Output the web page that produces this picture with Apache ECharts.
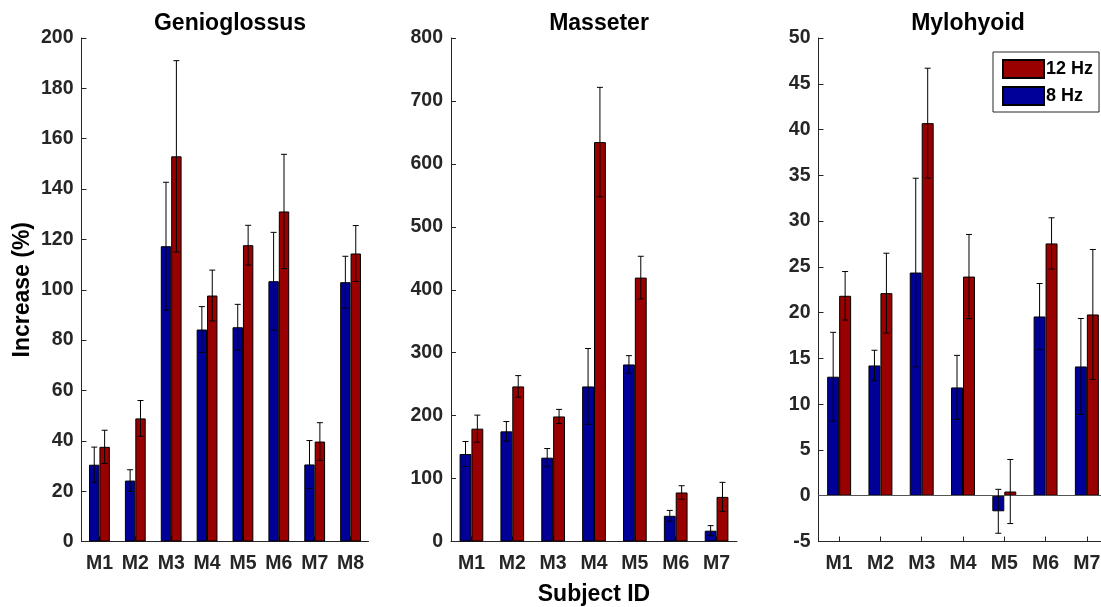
<!DOCTYPE html>
<html>
<head>
<meta charset="utf-8">
<script src="https://cdn.jsdelivr.net/npm/echarts@6/dist/echarts.min.js"></script>
<style>
  html, body { margin: 0; padding: 0; background: #fff; }
  #chart { width: 1101px; height: 607px; }
</style>
</head>
<body>
<div id="chart"></div>
<script>
// Muscle response (% increase) per subject at 8 Hz and 12 Hz stimulation, mean ± error
const genioSubjects = ['M1', 'M2', 'M3', 'M4', 'M5', 'M6', 'M7', 'M8'];
const genio8 = [30.5, 24.2, 117.3, 84.2, 85.1, 103.4, 30.6, 103.0];
const genio8Err = [7.0, 4.3, 25.4, 9.1, 9.1, 19.4, 9.5, 10.3];
const genio12 = [37.6, 48.9, 153.0, 97.7, 117.7, 131.1, 39.7, 114.4];
const genio12Err = [6.6, 7.1, 38.0, 10.1, 7.9, 22.7, 7.5, 11.1];

const masseterSubjects = ['M1', 'M2', 'M3', 'M4', 'M5', 'M6', 'M7'];
const masseter8 = [139.0, 175.0, 133.2, 246.4, 281.3, 40.8, 17.2];
const masseter8Err = [19.9, 15.6, 14.5, 60.2, 14.0, 8.6, 8.0];
const masseter12 = [179.3, 246.4, 198.7, 634.6, 419.3, 77.9, 70.9];
const masseter12Err = [21.5, 17.2, 11.2, 87.0, 33.9, 10.7, 23.1];

const myloSubjects = ['M1', 'M2', 'M3', 'M4', 'M5', 'M6', 'M7'];
const mylo8 = [13.0, 14.23, 24.38, 11.83, -1.7, 19.58, 14.12];
const mylo8Err = [4.85, 1.66, 10.3, 3.5, 2.4, 3.6, 5.24];
const mylo12 = [21.84, 22.13, 40.7, 23.94, 0.46, 27.56, 19.8];
const mylo12Err = [2.65, 4.36, 6.0, 4.6, 3.5, 2.8, 7.1];

const panelTitles = ['Genioglossus', 'Masseter', 'Mylohyoid'];
const yRanges = [[0, 200, 20], [0, 800, 100], [-5, 50, 5]];

const BLUE = '#000099';
const RED = '#990000';
const AXIS = '#262626';
const FONT = '"Liberation Sans", Arial, Helvetica, sans-serif';
const BAR_FRAC = 0.29;

const panels = [
  { cats: genioSubjects, v8: genio8, e8: genio8Err, v12: genio12, e12: genio12Err },
  { cats: masseterSubjects, v8: masseter8, e8: masseter8Err, v12: masseter12, e12: masseter12Err },
  { cats: myloSubjects, v8: mylo8, e8: mylo8Err, v12: mylo12, e12: mylo12Err }
];

const grids = [
  { left: 81.5, top: 38, width: 287, height: 503.5, outerBoundsMode: 'none' },
  { left: 451, top: 38, width: 286, height: 503.5, outerBoundsMode: 'none' },
  { left: 818.5, top: 38, width: 289, height: 503.5, outerBoundsMode: 'none' }
];

// Error bar: vertical whisker with short caps, offset to sit on its bar
function errorRenderer(sign) {
  return function (params, api) {
    const idx = api.value(0);
    const v = api.value(1);
    const e = api.value(2);
    const band = api.size([1, 0])[0];
    const dx = sign * band * BAR_FRAC / 2;
    const top = api.coord([idx, v + e]);
    const bot = api.coord([idx, v - e]);
    const x = top[0] + dx;
    const cap = 3;
    const style = { stroke: '#000', lineWidth: 1 };
    return {
      type: 'group',
      children: [
        { type: 'line', shape: { x1: x, y1: top[1], x2: x, y2: bot[1] }, style },
        { type: 'line', shape: { x1: x - cap, y1: top[1], x2: x + cap, y2: top[1] }, style },
        { type: 'line', shape: { x1: x - cap, y1: bot[1], x2: x + cap, y2: bot[1] }, style }
      ]
    };
  };
}

const xAxes = [], yAxes = [], series = [], titles = [];
panels.forEach((p, i) => {
  const g = grids[i];
  titles.push({
    text: panelTitles[i],
    left: g.left + g.width / 2,
    top: 7,
    textAlign: 'center',
    textStyle: { fontFamily: FONT, fontSize: 23, fontWeight: 'bold', color: '#000' }
  });
  xAxes.push({
    type: 'category',
    gridIndex: i,
    data: p.cats,
    boundaryGap: true,
    axisLine: { onZero: false, lineStyle: { color: AXIS, width: 1 } },
    axisTick: { show: true, inside: true, alignWithLabel: true, length: 5, lineStyle: { color: AXIS } },
    axisLabel: { fontFamily: FONT, fontSize: 19.5, fontWeight: 'bold', color: AXIS, margin: 12 },
    splitLine: { show: false },
    name: i === 1 ? 'Subject ID' : '',
    nameLocation: 'middle',
    nameGap: 42,
    nameTextStyle: { fontFamily: FONT, fontSize: 23, fontWeight: 'bold', color: '#000' }
  });
  yAxes.push({
    type: 'value',
    gridIndex: i,
    min: yRanges[i][0],
    max: yRanges[i][1],
    interval: yRanges[i][2],
    axisLine: { show: true, lineStyle: { color: AXIS, width: 1 } },
    axisTick: { show: true, inside: true, length: 5, lineStyle: { color: AXIS } },
    axisLabel: { fontFamily: FONT, fontSize: 19.5, fontWeight: 'bold', color: AXIS, margin: 8 },
    splitLine: { show: false },
    name: i === 0 ? 'Increase (%)' : '',
    nameLocation: 'middle',
    nameGap: 47,
    nameTextStyle: { fontFamily: FONT, fontSize: 23, fontWeight: 'bold', color: '#000' }
  });

  const bar8 = {
    name: '8 Hz',
    type: 'bar',
    xAxisIndex: i,
    yAxisIndex: i,
    data: p.v8,
    barWidth: (BAR_FRAC * 100) + '%',
    barGap: '0%',
    itemStyle: { color: BLUE, borderColor: '#000', borderWidth: 1 },
    emphasis: { disabled: true },
    animation: false
  };
  if (i === 2) {
    // bar baseline at zero
    bar8.markLine = {
      silent: true,
      symbol: ['none', 'none'],
      label: { show: false },
      lineStyle: { color: '#555', width: 1, type: 'solid' },
      data: [{ yAxis: 0 }]
    };
  }
  series.push(bar8);
  series.push({
    name: '12 Hz',
    type: 'bar',
    xAxisIndex: i,
    yAxisIndex: i,
    data: p.v12,
    barWidth: (BAR_FRAC * 100) + '%',
    barGap: '0%',
    itemStyle: { color: RED, borderColor: '#000', borderWidth: 1 },
    emphasis: { disabled: true },
    animation: false
  });
  series.push({
    type: 'custom',
    xAxisIndex: i,
    yAxisIndex: i,
    renderItem: errorRenderer(-1),
    data: p.v8.map((v, k) => [k, v, p.e8[k]]),
    encode: { x: 0, y: 1 },
    z: 10,
    silent: true,
    animation: false
  });
  series.push({
    type: 'custom',
    xAxisIndex: i,
    yAxisIndex: i,
    renderItem: errorRenderer(1),
    data: p.v12.map((v, k) => [k, v, p.e12[k]]),
    encode: { x: 0, y: 1 },
    z: 10,
    silent: true,
    animation: false
  });
});

const chart = echarts.init(document.getElementById('chart'), null, { renderer: 'canvas' });
chart.setOption({
  backgroundColor: '#fff',
  animation: false,
  title: titles,
  legend: {
    data: ['12 Hz', '8 Hz'],
    orient: 'vertical',
    left: 993,
    top: 52,
    itemWidth: 41,
    itemHeight: 18,
    itemGap: 7,
    padding: [7, 6, 6, 9],
    borderColor: AXIS,
    borderWidth: 1,
    backgroundColor: '#fff',
    icon: 'rect',
    selectedMode: false,
    textStyle: { fontFamily: FONT, fontSize: 18, fontWeight: 'bold', color: '#000', padding: [0, 0, 0, -3] }
  },
  grid: grids,
  xAxis: xAxes,
  yAxis: yAxes,
  series: series
});
</script>
</body>
</html>
